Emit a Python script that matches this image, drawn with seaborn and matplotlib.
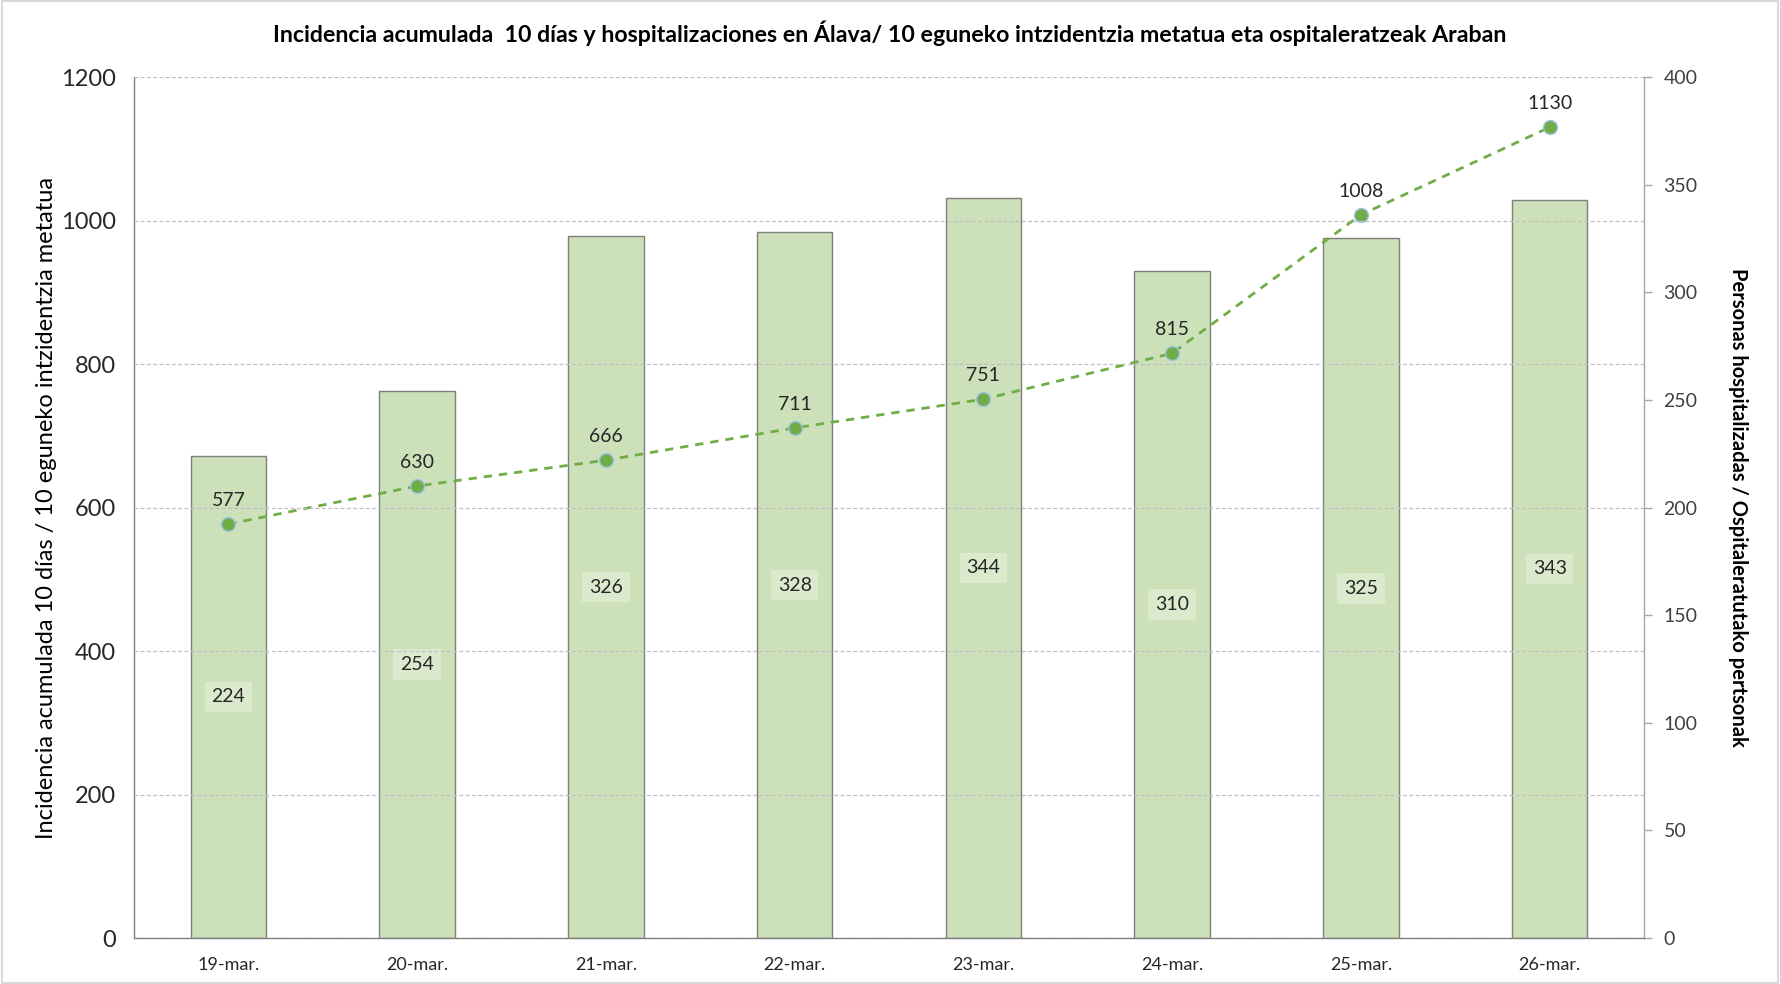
import matplotlib
matplotlib.use("Agg")
import matplotlib.pyplot as plt
import seaborn as sns
import pandas as pd
from matplotlib.patches import Rectangle

dates = ["19-mar.", "20-mar.", "21-mar.", "22-mar.", "23-mar.", "24-mar.", "25-mar.", "26-mar."]
incidencia = [577, 630, 666, 711, 751, 815, 1008, 1130]
hospitalizados = [224, 254, 326, 328, 344, 310, 325, 343]

title = "Incidencia acumulada  10 días y hospitalizaciones en Álava/ 10 eguneko intzidentzia metatua eta ospitaleratzeak Araban"
ylabel_left = "Incidencia acumulada 10 días / 10 eguneko intzidentzia metatua"
ylabel_right = "Personas hospitalizadas / Ospitaleratutako pertsonak"

sns.set_theme(style="white")
plt.rcParams['font.family'] = ['Lato', 'DejaVu Sans']

df = pd.DataFrame({"fecha": dates, "inc": incidencia, "hosp": hospitalizados})

fig = plt.figure(figsize=(17.8, 9.84), dpi=100)
ax1 = fig.add_axes([0.0753, 0.0467, 0.8483, 0.875])
ax2 = ax1.twinx()

# bars on right axis
sns.barplot(data=df, x="fecha", y="hosp", ax=ax2, color="#CCE1BA", width=0.4,
            edgecolor="#7F7F7F", linewidth=1.0, saturation=1)
ax2.set_ylim(0, 400)
ax2.set_yticks(range(0, 401, 50))

# line on left axis
x_pos = list(range(len(dates)))
sns.lineplot(x=x_pos, y=incidencia, ax=ax1, color="#70AD47", linestyle=(0, (3, 2.5)),
             linewidth=2.0, marker="o", markersize=10, markerfacecolor="#70AD47",
             markeredgecolor="#9DC3E6", markeredgewidth=1.0)
ax1.set_ylim(0, 1200)
ax1.set_yticks(range(0, 1201, 200))
ax1.set_xlim(-0.5, len(dates) - 0.5)
ax2.set_xlim(-0.5, len(dates) - 0.5)

ax1.set_zorder(ax2.get_zorder() + 1)
ax1.patch.set_visible(False)

ax1.yaxis.grid(True, color="#BFBFBF", linestyle=(0, (3, 2)), linewidth=0.9)
ax1.set_axisbelow(False)

# labels for line
for xi, v in zip(x_pos, incidencia):
    ax1.annotate(str(v), (xi, v), xytext=(0, 11), textcoords="offset points",
                 ha="center", va="bottom", fontsize=14, color="#262626")

# labels for bars
for xi, v in zip(x_pos, hospitalizados):
    ax2.text(xi, v / 2, str(v), ha="center", va="center", fontsize=14, color="#262626",
             bbox=dict(boxstyle="square,pad=0.35", facecolor="#DBEACD", edgecolor="none"))

# ticks and spines
ax1.set_xticks(x_pos)
ax1.set_xticklabels(dates, fontsize=13, color="#262626")
ax1.tick_params(axis="x", length=0, pad=14)
ax1.tick_params(axis="y", length=0, labelsize=17, pad=13, colors="#262626")
ax2.tick_params(axis="y", length=6, width=1, color="#A6A6A6", direction="out",
                labelsize=14, pad=8, labelcolor="#404040")
ax2.tick_params(axis="x", length=0)
ax2.set_xlabel("")
ax1.set_xlabel("")

for a in (ax1, ax2):
    a.spines["top"].set_visible(False)
    for s in ("left", "right", "bottom"):
        a.spines[s].set_color("#7F7F7F")
        a.spines[s].set_linewidth(1.0)
ax2.spines["left"].set_visible(False)
ax2.spines["bottom"].set_visible(False)
ax1.spines["right"].set_visible(False)
ax2.spines["right"].set_color("#A6A6A6")

ax1.set_ylabel(ylabel_left, fontsize=17, color="#000000", labelpad=3)
ax2.set_ylabel(ylabel_right, fontsize=14.5, fontweight="bold", color="#000000",
               rotation=-90, labelpad=36)

fig.text(0.5, 0.966, title, ha="center", va="center", fontsize=16.7, fontweight="bold", color="#000000")

fig.patches.append(Rectangle((0.001, 0.001), 0.998, 0.998, transform=fig.transFigure,
                             fill=False, edgecolor="#D9D9D9", linewidth=1.5))

fig.savefig("out.png", dpi=100)
